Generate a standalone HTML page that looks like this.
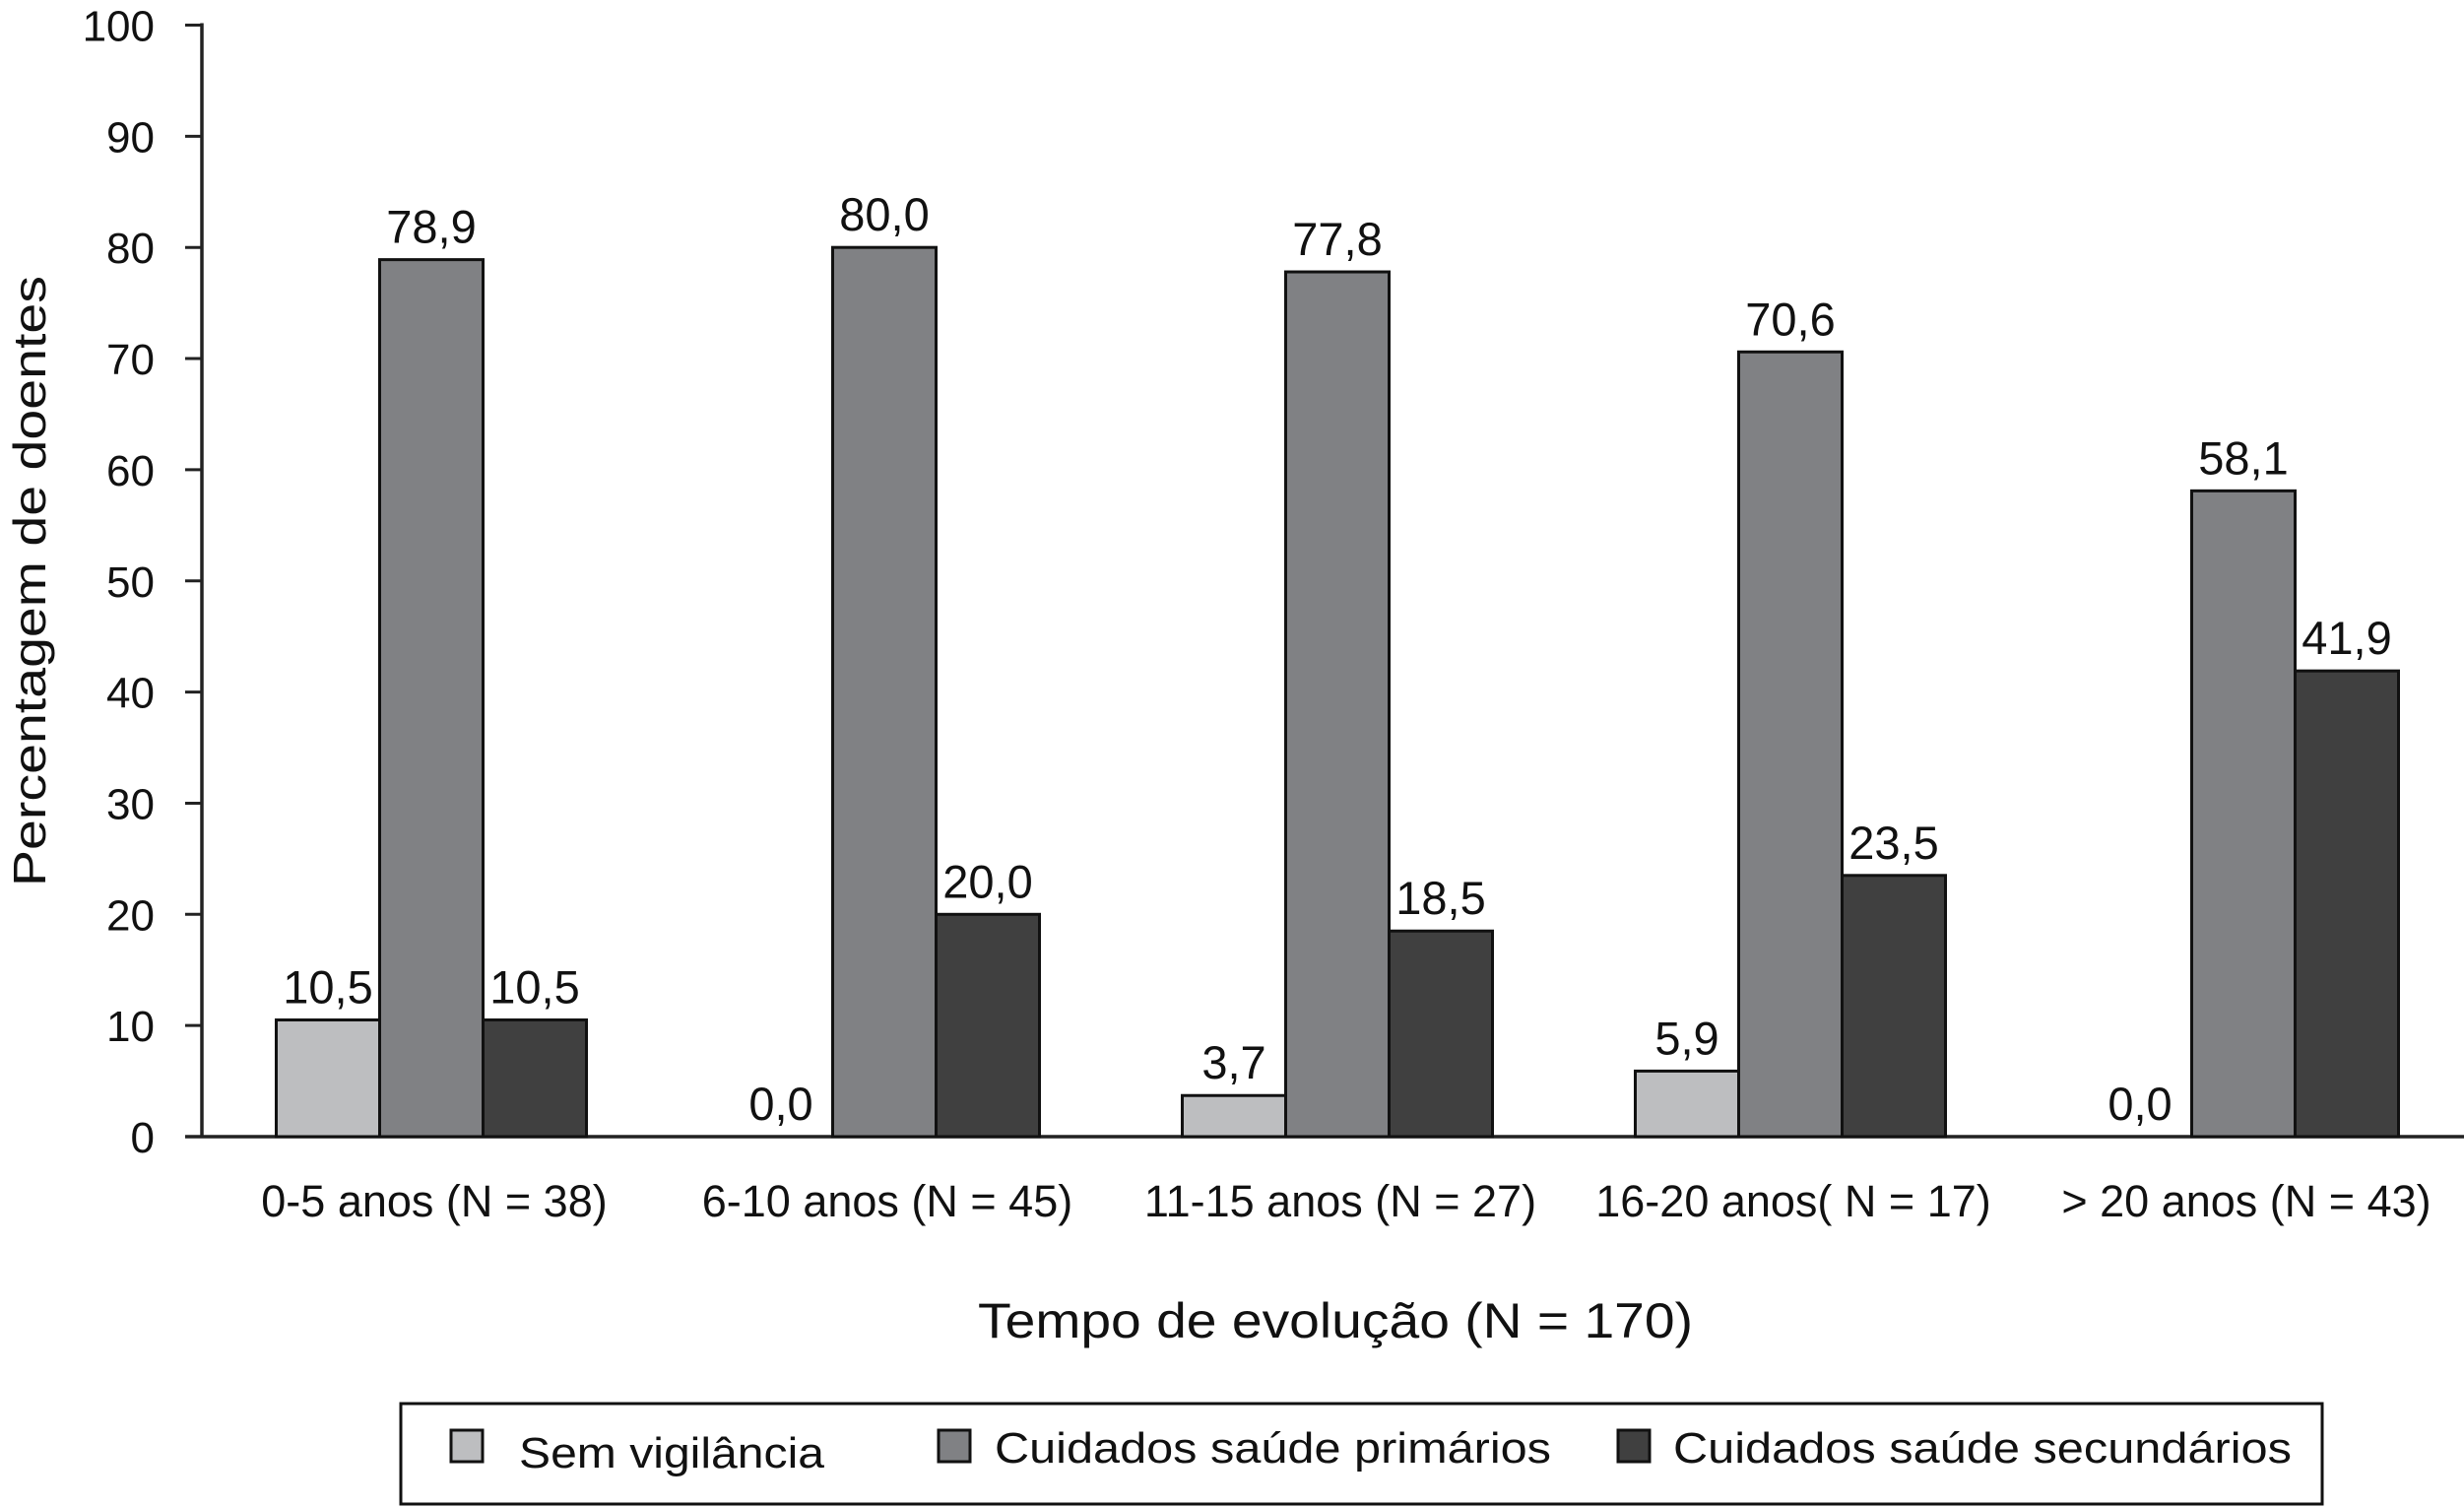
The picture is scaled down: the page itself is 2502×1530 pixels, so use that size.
<!DOCTYPE html>
<html><head><meta charset="utf-8">
<style>
html,body{margin:0;padding:0;background:#fff;}
svg{display:block;font-family:"Liberation Sans",Arial,sans-serif;}
</style></head>
<body>
<svg id="chart" width="2502" height="1530" viewBox="0 0 2502 1530" xmlns="http://www.w3.org/2000/svg">
<rect x="0" y="0" width="2502" height="1530" fill="#fff"/>
<g id="grid"></g>
<g id="bars"></g>
<g id="labels"></g>
<text transform="translate(46,590) rotate(-90)" text-anchor="middle" font-size="46" textLength="620" lengthAdjust="spacingAndGlyphs" fill="#111">Percentagem de doentes</text>
<text x="1356" y="1358" text-anchor="middle" font-size="50" textLength="726" lengthAdjust="spacingAndGlyphs" fill="#111">Tempo de evolução (N = 170)</text>
<g>
<rect x="407" y="1425" width="1951" height="102" fill="#fff" stroke="#111" stroke-width="3"/>
<rect x="458" y="1452" width="32" height="32" fill="#bdbec0" stroke="#111" stroke-width="3"/>
<text x="527" y="1490" font-size="44" textLength="310" lengthAdjust="spacingAndGlyphs" fill="#111">Sem vigilância</text>
<rect x="953" y="1452" width="32" height="32" fill="#808184" stroke="#111" stroke-width="3"/>
<text x="1010" y="1485" font-size="44" textLength="565" lengthAdjust="spacingAndGlyphs" fill="#111">Cuidados saúde primários</text>
<rect x="1643" y="1452" width="32" height="32" fill="#404040" stroke="#111" stroke-width="3"/>
<text x="1699" y="1485" font-size="44" textLength="628" lengthAdjust="spacingAndGlyphs" fill="#111">Cuidados saúde secundários</text>
</g>
</svg>
<script>
const categories = ["0-5 anos (N = 38)","6-10 anos (N = 45)","11-15 anos (N = 27)","16-20 anos( N = 17)","> 20 anos (N = 43)"];
const semVigilancia = [10.5, 0.0, 3.7, 5.9, 0.0];
const primarios = [78.9, 80.0, 77.8, 70.6, 58.1];
const secundarios = [10.5, 20.0, 18.5, 23.5, 41.9];
const yTicks = [0,10,20,30,40,50,60,70,80,90,100];

const NS = "http://www.w3.org/2000/svg";
const y0 = 1154, y100 = 25.5, axisX = 205;
function yScale(v){ return y0 - (y0 - y100) * v / 100; }
const groupW = 460, firstCenter = 438, barW = 105;
function xCenter(i){ return firstCenter + groupW * i; }
function mk(tag, attrs, parent){ const e=document.createElementNS(NS,tag); for(const k in attrs) e.setAttribute(k,attrs[k]); parent.appendChild(e); return e; }
function fmt(v){ return v.toFixed(1).replace('.', ','); }

const grid = document.getElementById('grid');
const bars = document.getElementById('bars');
const labels = document.getElementById('labels');

yTicks.forEach(t => {
  const y = yScale(t);
  const tk = mk('line', {x1:188, x2:axisX, y1:y, y2:y, stroke:'#222', 'stroke-width':3}, grid);
  
  
  const tl = mk('text', {x:157, y:y+16, 'text-anchor':'end', 'font-size':44, fill:'#111'}, grid);
  
  
  tl.textContent = t;
});
const ya = mk('line', {x1:axisX, x2:axisX, y1:y100-2, y2:y0+1.5, stroke:'#222', 'stroke-width':3.5}, grid);


const xa = mk('line', {x1:188, x2:2502, y1:y0, y2:y0, stroke:'#222', 'stroke-width':3.5}, grid);



const series = [
  {vals: semVigilancia, fill:'#bdbec0', off:-1, name:'sem-vigilancia'},
  {vals: primarios, fill:'#808184', off:0, name:'primarios'},
  {vals: secundarios, fill:'#404040', off:1, name:'secundarios'}
];
categories.forEach((c, i) => {
  series.forEach(s => {
    const v = s.vals[i];
    const cx = xCenter(i) + s.off * barW;
    const top = yScale(v);
    if (v > 0) {
      const r = mk('rect', {x:cx-barW/2, y:top, width:barW, height:y0-top, fill:s.fill, stroke:'#111', 'stroke-width':3}, bars);
      
      
    }
    const lb = mk('text', {x:cx, y:top-17, 'text-anchor':'middle', 'font-size':47, fill:'#111'}, labels);
    
    
    lb.textContent = fmt(v);
  });
  const cl = mk('text', {x:xCenter(i)+3, y:1235, 'text-anchor':'middle', 'font-size':45, fill:'#111'}, labels);
  
  
  cl.textContent = c;
});
</script>
</body></html>
